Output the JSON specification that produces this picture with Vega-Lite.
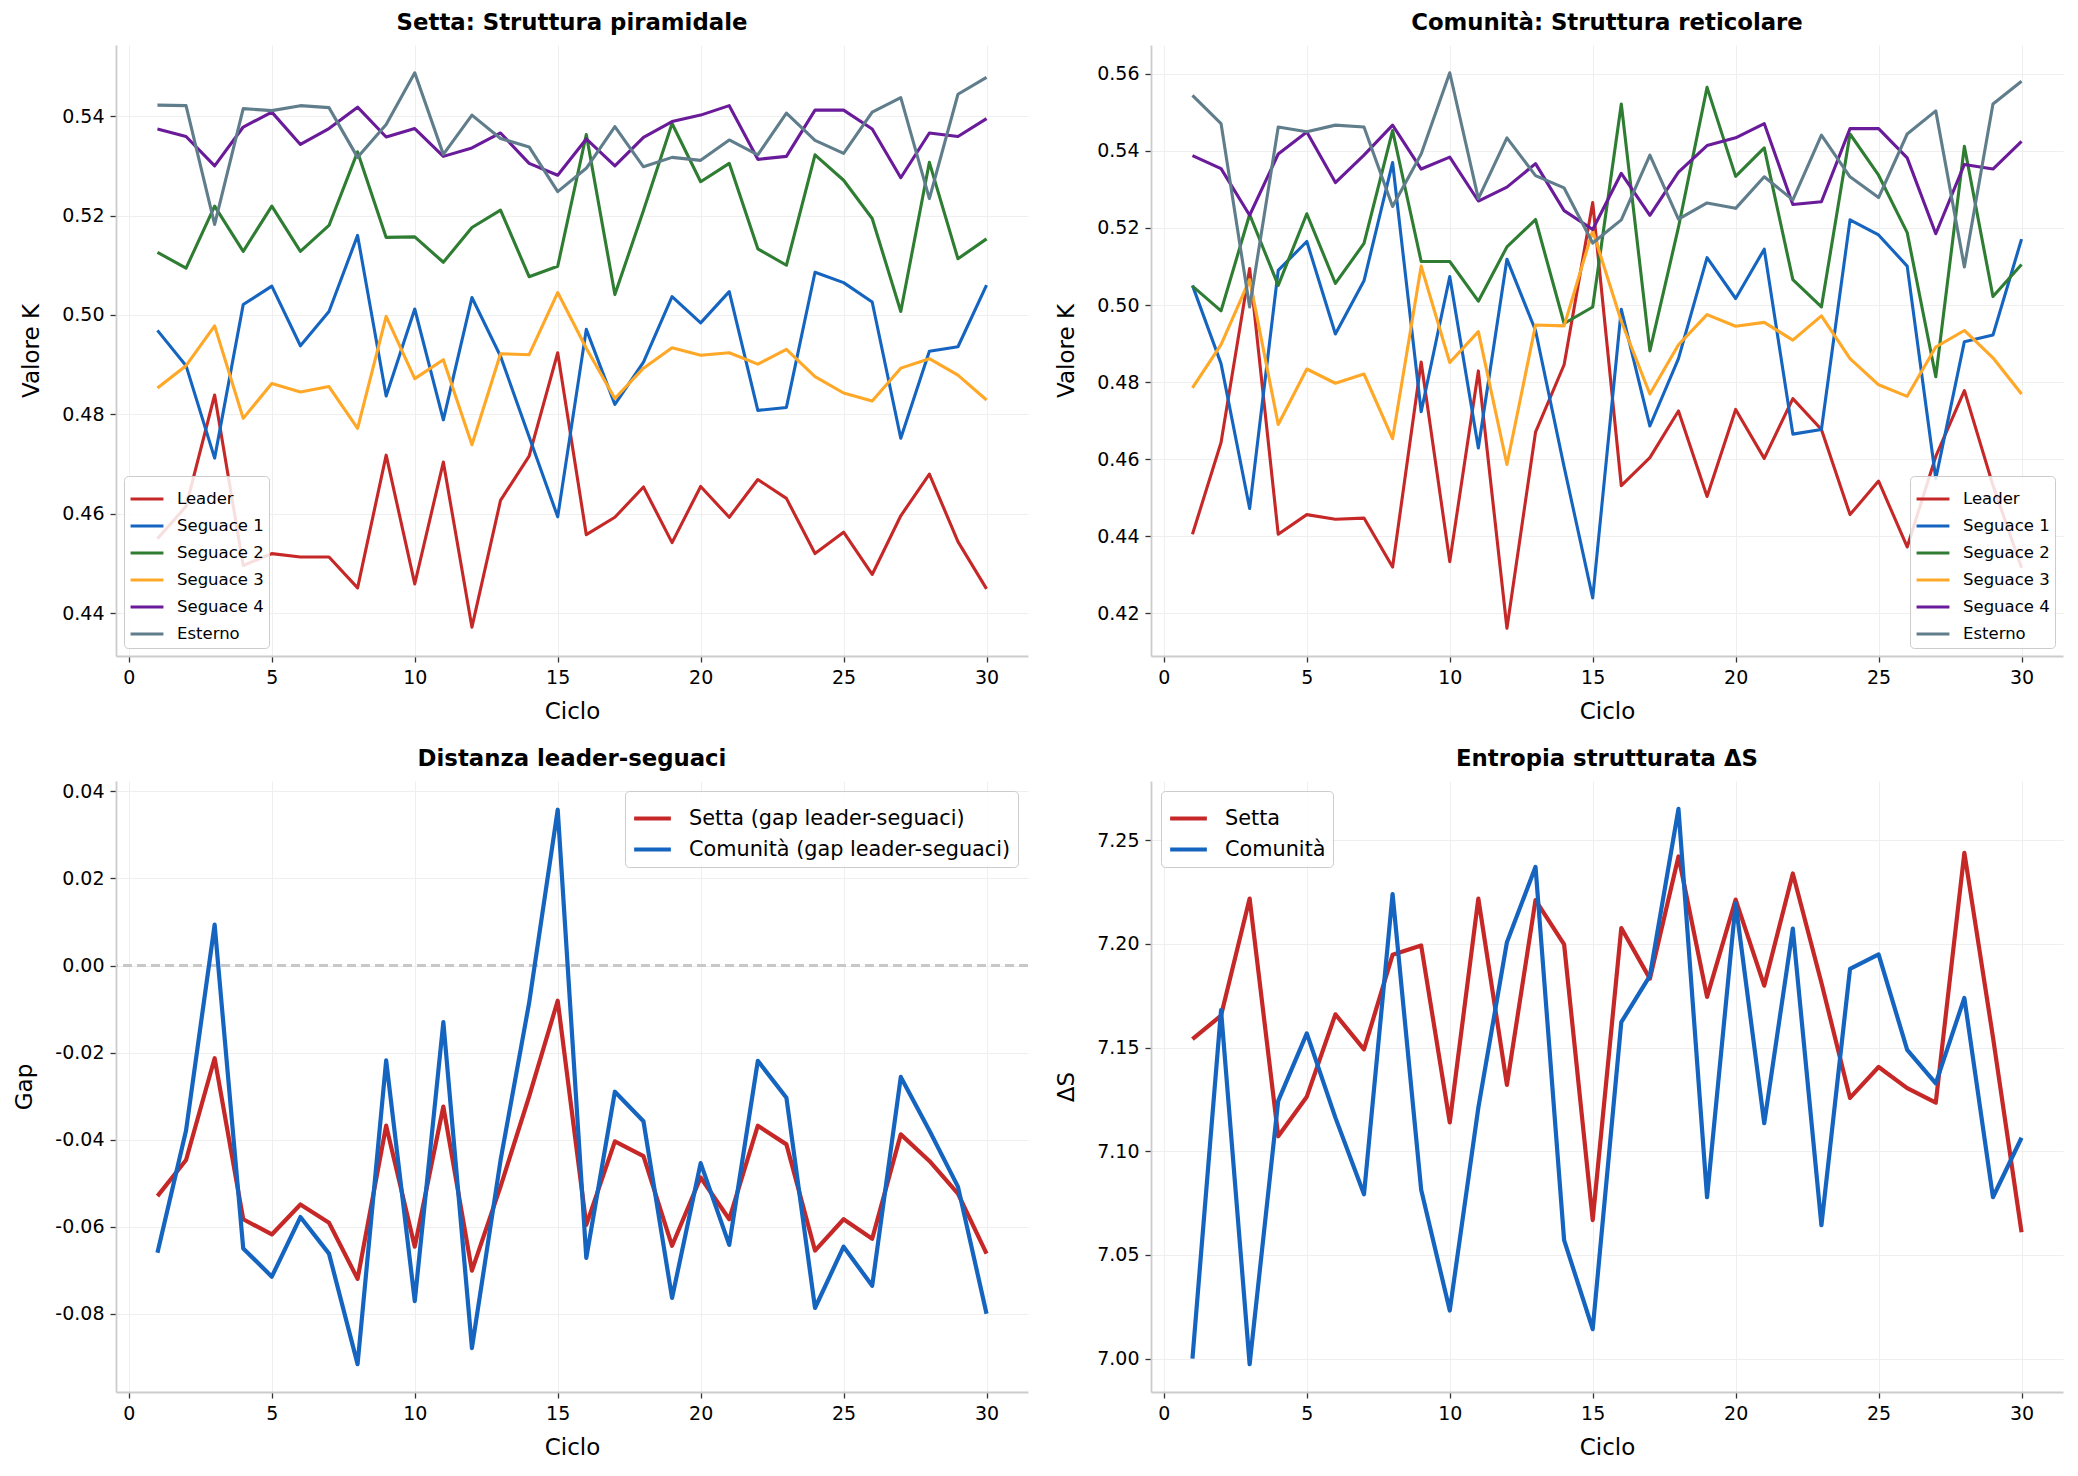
{
  "$schema": "https://vega.github.io/schema/vega-lite/v6.json",
  "background": "white",
  "padding": {"left": 13, "top": 12, "right": 4, "bottom": 6},
  "config": {
    "font": "DejaVu Sans",
    "view": {"stroke": null},
    "title": {"font": "DejaVu Sans", "fontSize": 22.8, "fontWeight": "bold", "color": "#000000", "offset": 10, "anchor": "middle"},
    "axis": {
      "domainColor": "#cccccc", "domainWidth": 1.8,
      "tickColor": "#333333", "tickSize": 6, "tickWidth": 1.3,
      "labelFont": "DejaVu Sans", "labelFontSize": 19, "labelColor": "#000000", "labelPadding": 6,
      "titleFont": "DejaVu Sans", "titleFontSize": 23, "titleFontWeight": "normal", "titleColor": "#000000", "titlePadding": 13,
      "grid": true, "gridColor": "#efefef", "gridWidth": 1
    },
    "axisY": {"titlePadding": 18},
    "legend": {
      "fillColor": "rgba(255,255,255,0.85)", "strokeColor": "#cccccc", "cornerRadius": 4,
      "symbolType": "stroke", "labelFont": "DejaVu Sans", "labelColor": "#000000"
    }
  },
  "datasets": {
    "setta": [
      {"ciclo": 1, "Leader": 0.4550, "Seguace 1": 0.4969, "Seguace 2": 0.5126, "Seguace 3": 0.4853, "Seguace 4": 0.5374, "Esterno": 0.5422},
      {"ciclo": 2, "Leader": 0.4615, "Seguace 1": 0.4898, "Seguace 2": 0.5094, "Seguace 3": 0.4898, "Seguace 4": 0.5359, "Esterno": 0.5421},
      {"ciclo": 3, "Leader": 0.4839, "Seguace 1": 0.4712, "Seguace 2": 0.5219, "Seguace 3": 0.4978, "Seguace 4": 0.5300, "Esterno": 0.5182},
      {"ciclo": 4, "Leader": 0.4496, "Seguace 1": 0.5021, "Seguace 2": 0.5128, "Seguace 3": 0.4792, "Seguace 4": 0.5378, "Esterno": 0.5415},
      {"ciclo": 5, "Leader": 0.4520, "Seguace 1": 0.5058, "Seguace 2": 0.5219, "Seguace 3": 0.4862, "Seguace 4": 0.5408, "Esterno": 0.5411},
      {"ciclo": 6, "Leader": 0.4513, "Seguace 1": 0.4938, "Seguace 2": 0.5128, "Seguace 3": 0.4845, "Seguace 4": 0.5343, "Esterno": 0.5421},
      {"ciclo": 7, "Leader": 0.4513, "Seguace 1": 0.5007, "Seguace 2": 0.5180, "Seguace 3": 0.4856, "Seguace 4": 0.5375, "Esterno": 0.5417},
      {"ciclo": 8, "Leader": 0.4451, "Seguace 1": 0.5160, "Seguace 2": 0.5328, "Seguace 3": 0.4772, "Seguace 4": 0.5418, "Esterno": 0.5317},
      {"ciclo": 9, "Leader": 0.4718, "Seguace 1": 0.4837, "Seguace 2": 0.5156, "Seguace 3": 0.4997, "Seguace 4": 0.5358, "Esterno": 0.5383},
      {"ciclo": 10, "Leader": 0.4459, "Seguace 1": 0.5012, "Seguace 2": 0.5157, "Seguace 3": 0.4872, "Seguace 4": 0.5375, "Esterno": 0.5487},
      {"ciclo": 11, "Leader": 0.4704, "Seguace 1": 0.4789, "Seguace 2": 0.5106, "Seguace 3": 0.4910, "Seguace 4": 0.5319, "Esterno": 0.5323},
      {"ciclo": 12, "Leader": 0.4372, "Seguace 1": 0.5035, "Seguace 2": 0.5176, "Seguace 3": 0.4739, "Seguace 4": 0.5336, "Esterno": 0.5402},
      {"ciclo": 13, "Leader": 0.4627, "Seguace 1": 0.4917, "Seguace 2": 0.5211, "Seguace 3": 0.4922, "Seguace 4": 0.5366, "Esterno": 0.5355},
      {"ciclo": 14, "Leader": 0.4716, "Seguace 1": 0.4755, "Seguace 2": 0.5077, "Seguace 3": 0.4920, "Seguace 4": 0.5305, "Esterno": 0.5338},
      {"ciclo": 15, "Leader": 0.4924, "Seguace 1": 0.4594, "Seguace 2": 0.5098, "Seguace 3": 0.5045, "Seguace 4": 0.5281, "Esterno": 0.5248},
      {"ciclo": 16, "Leader": 0.4558, "Seguace 1": 0.4971, "Seguace 2": 0.5363, "Seguace 3": 0.4933, "Seguace 4": 0.5354, "Esterno": 0.5295},
      {"ciclo": 17, "Leader": 0.4593, "Seguace 1": 0.4820, "Seguace 2": 0.5041, "Seguace 3": 0.4832, "Seguace 4": 0.5300, "Esterno": 0.5379},
      {"ciclo": 18, "Leader": 0.4654, "Seguace 1": 0.4905, "Seguace 2": 0.5210, "Seguace 3": 0.4893, "Seguace 4": 0.5357, "Esterno": 0.5298},
      {"ciclo": 19, "Leader": 0.4542, "Seguace 1": 0.5037, "Seguace 2": 0.5385, "Seguace 3": 0.4934, "Seguace 4": 0.5389, "Esterno": 0.5317},
      {"ciclo": 20, "Leader": 0.4655, "Seguace 1": 0.4984, "Seguace 2": 0.5268, "Seguace 3": 0.4919, "Seguace 4": 0.5402, "Esterno": 0.5311},
      {"ciclo": 21, "Leader": 0.4593, "Seguace 1": 0.5047, "Seguace 2": 0.5305, "Seguace 3": 0.4924, "Seguace 4": 0.5421, "Esterno": 0.5352},
      {"ciclo": 22, "Leader": 0.4669, "Seguace 1": 0.4808, "Seguace 2": 0.5133, "Seguace 3": 0.4901, "Seguace 4": 0.5313, "Esterno": 0.5322},
      {"ciclo": 23, "Leader": 0.4631, "Seguace 1": 0.4814, "Seguace 2": 0.5100, "Seguace 3": 0.4931, "Seguace 4": 0.5319, "Esterno": 0.5406},
      {"ciclo": 24, "Leader": 0.4520, "Seguace 1": 0.5086, "Seguace 2": 0.5322, "Seguace 3": 0.4876, "Seguace 4": 0.5412, "Esterno": 0.5351},
      {"ciclo": 25, "Leader": 0.4563, "Seguace 1": 0.5065, "Seguace 2": 0.5271, "Seguace 3": 0.4843, "Seguace 4": 0.5412, "Esterno": 0.5325},
      {"ciclo": 26, "Leader": 0.4478, "Seguace 1": 0.5026, "Seguace 2": 0.5194, "Seguace 3": 0.4827, "Seguace 4": 0.5374, "Esterno": 0.5408},
      {"ciclo": 27, "Leader": 0.4596, "Seguace 1": 0.4752, "Seguace 2": 0.5007, "Seguace 3": 0.4893, "Seguace 4": 0.5276, "Esterno": 0.5437},
      {"ciclo": 28, "Leader": 0.4680, "Seguace 1": 0.4927, "Seguace 2": 0.5307, "Seguace 3": 0.4912, "Seguace 4": 0.5366, "Esterno": 0.5234},
      {"ciclo": 29, "Leader": 0.4544, "Seguace 1": 0.4936, "Seguace 2": 0.5113, "Seguace 3": 0.4879, "Seguace 4": 0.5359, "Esterno": 0.5444},
      {"ciclo": 30, "Leader": 0.4449, "Seguace 1": 0.5060, "Seguace 2": 0.5153, "Seguace 3": 0.4829, "Seguace 4": 0.5395, "Esterno": 0.5478}
    ],
    "comunita": [
      {"ciclo": 1, "Leader": 0.4405, "Seguace 1": 0.5051, "Seguace 2": 0.5049, "Seguace 3": 0.4785, "Seguace 4": 0.5388, "Esterno": 0.5544},
      {"ciclo": 2, "Leader": 0.4643, "Seguace 1": 0.4848, "Seguace 2": 0.4985, "Seguace 3": 0.4897, "Seguace 4": 0.5354, "Esterno": 0.5471},
      {"ciclo": 3, "Leader": 0.5095, "Seguace 1": 0.4472, "Seguace 2": 0.5235, "Seguace 3": 0.5066, "Seguace 4": 0.5233, "Esterno": 0.4995},
      {"ciclo": 4, "Leader": 0.4405, "Seguace 1": 0.5090, "Seguace 2": 0.5051, "Seguace 3": 0.4690, "Seguace 4": 0.5392, "Esterno": 0.5462},
      {"ciclo": 5, "Leader": 0.4456, "Seguace 1": 0.5165, "Seguace 2": 0.5237, "Seguace 3": 0.4834, "Seguace 4": 0.5449, "Esterno": 0.5450},
      {"ciclo": 6, "Leader": 0.4444, "Seguace 1": 0.4925, "Seguace 2": 0.5056, "Seguace 3": 0.4797, "Seguace 4": 0.5318, "Esterno": 0.5467},
      {"ciclo": 7, "Leader": 0.4447, "Seguace 1": 0.5063, "Seguace 2": 0.5160, "Seguace 3": 0.4821, "Seguace 4": 0.5389, "Esterno": 0.5462},
      {"ciclo": 8, "Leader": 0.4320, "Seguace 1": 0.5370, "Seguace 2": 0.5453, "Seguace 3": 0.4653, "Seguace 4": 0.5467, "Esterno": 0.5256},
      {"ciclo": 9, "Leader": 0.4852, "Seguace 1": 0.4723, "Seguace 2": 0.5113, "Seguace 3": 0.5101, "Seguace 4": 0.5353, "Esterno": 0.5392},
      {"ciclo": 10, "Leader": 0.4334, "Seguace 1": 0.5074, "Seguace 2": 0.5113, "Seguace 3": 0.4851, "Seguace 4": 0.5384, "Esterno": 0.5603},
      {"ciclo": 11, "Leader": 0.4829, "Seguace 1": 0.4629, "Seguace 2": 0.5010, "Seguace 3": 0.4931, "Seguace 4": 0.5270, "Esterno": 0.5276},
      {"ciclo": 12, "Leader": 0.4161, "Seguace 1": 0.5119, "Seguace 2": 0.5151, "Seguace 3": 0.4586, "Seguace 4": 0.5306, "Esterno": 0.5434},
      {"ciclo": 13, "Leader": 0.4670, "Seguace 1": 0.4934, "Seguace 2": 0.5222, "Seguace 3": 0.4948, "Seguace 4": 0.5367, "Esterno": 0.5336},
      {"ciclo": 14, "Leader": 0.4845, "Seguace 1": 0.4580, "Seguace 2": 0.4952, "Seguace 3": 0.4946, "Seguace 4": 0.5245, "Esterno": 0.5304},
      {"ciclo": 15, "Leader": 0.5266, "Seguace 1": 0.4240, "Seguace 2": 0.4995, "Seguace 3": 0.5193, "Seguace 4": 0.5196, "Esterno": 0.5161},
      {"ciclo": 16, "Leader": 0.4531, "Seguace 1": 0.4989, "Seguace 2": 0.5522, "Seguace 3": 0.4958, "Seguace 4": 0.5342, "Esterno": 0.5221},
      {"ciclo": 17, "Leader": 0.4604, "Seguace 1": 0.4686, "Seguace 2": 0.4881, "Seguace 3": 0.4769, "Seguace 4": 0.5233, "Esterno": 0.5389},
      {"ciclo": 18, "Leader": 0.4725, "Seguace 1": 0.4861, "Seguace 2": 0.5202, "Seguace 3": 0.4897, "Seguace 4": 0.5345, "Esterno": 0.5223},
      {"ciclo": 19, "Leader": 0.4503, "Seguace 1": 0.5123, "Seguace 2": 0.5565, "Seguace 3": 0.4975, "Seguace 4": 0.5414, "Esterno": 0.5265},
      {"ciclo": 20, "Leader": 0.4729, "Seguace 1": 0.5017, "Seguace 2": 0.5334, "Seguace 3": 0.4945, "Seguace 4": 0.5434, "Esterno": 0.5251},
      {"ciclo": 21, "Leader": 0.4602, "Seguace 1": 0.5145, "Seguace 2": 0.5408, "Seguace 3": 0.4955, "Seguace 4": 0.5471, "Esterno": 0.5333},
      {"ciclo": 22, "Leader": 0.4757, "Seguace 1": 0.4665, "Seguace 2": 0.5066, "Seguace 3": 0.4909, "Seguace 4": 0.5261, "Esterno": 0.5273},
      {"ciclo": 23, "Leader": 0.4677, "Seguace 1": 0.4677, "Seguace 2": 0.4995, "Seguace 3": 0.4972, "Seguace 4": 0.5268, "Esterno": 0.5441},
      {"ciclo": 24, "Leader": 0.4456, "Seguace 1": 0.5221, "Seguace 2": 0.5444, "Seguace 3": 0.4861, "Seguace 4": 0.5458, "Esterno": 0.5333},
      {"ciclo": 25, "Leader": 0.4543, "Seguace 1": 0.5182, "Seguace 2": 0.5337, "Seguace 3": 0.4793, "Seguace 4": 0.5458, "Esterno": 0.5279},
      {"ciclo": 26, "Leader": 0.4372, "Seguace 1": 0.5101, "Seguace 2": 0.5188, "Seguace 3": 0.4763, "Seguace 4": 0.5382, "Esterno": 0.5444},
      {"ciclo": 27, "Leader": 0.4607, "Seguace 1": 0.4549, "Seguace 2": 0.4814, "Seguace 3": 0.4891, "Seguace 4": 0.5185, "Esterno": 0.5504},
      {"ciclo": 28, "Leader": 0.4778, "Seguace 1": 0.4905, "Seguace 2": 0.5412, "Seguace 3": 0.4934, "Seguace 4": 0.5365, "Esterno": 0.5099},
      {"ciclo": 29, "Leader": 0.4532, "Seguace 1": 0.4922, "Seguace 2": 0.5022, "Seguace 3": 0.4863, "Seguace 4": 0.5353, "Esterno": 0.5522},
      {"ciclo": 30, "Leader": 0.4318, "Seguace 1": 0.5171, "Seguace 2": 0.5105, "Seguace 3": 0.4769, "Seguace 4": 0.5425, "Esterno": 0.5581}
    ],
    "gap": [
      {"ciclo": 1, "Setta": -0.0530, "Comunità": -0.0660},
      {"ciclo": 2, "Setta": -0.0447, "Comunità": -0.0379},
      {"ciclo": 3, "Setta": -0.0213, "Comunità": 0.0094},
      {"ciclo": 4, "Setta": -0.0583, "Comunità": -0.0650},
      {"ciclo": 5, "Setta": -0.0618, "Comunità": -0.0715},
      {"ciclo": 6, "Setta": -0.0549, "Comunità": -0.0578},
      {"ciclo": 7, "Setta": -0.0591, "Comunità": -0.0662},
      {"ciclo": 8, "Setta": -0.0720, "Comunità": -0.0916},
      {"ciclo": 9, "Setta": -0.0368, "Comunità": -0.0218},
      {"ciclo": 10, "Setta": -0.0646, "Comunità": -0.0771},
      {"ciclo": 11, "Setta": -0.0324, "Comunità": -0.0130},
      {"ciclo": 12, "Setta": -0.0701, "Comunità": -0.0879},
      {"ciclo": 13, "Setta": -0.0508, "Comunità": -0.0448},
      {"ciclo": 14, "Setta": -0.0301, "Comunità": -0.0086},
      {"ciclo": 15, "Setta": -0.0081, "Comunità": 0.0358},
      {"ciclo": 16, "Setta": -0.0596, "Comunità": -0.0672},
      {"ciclo": 17, "Setta": -0.0404, "Comunità": -0.0290},
      {"ciclo": 18, "Setta": -0.0438, "Comunità": -0.0358},
      {"ciclo": 19, "Setta": -0.0644, "Comunità": -0.0764},
      {"ciclo": 20, "Setta": -0.0487, "Comunità": -0.0454},
      {"ciclo": 21, "Setta": -0.0583, "Comunità": -0.0642},
      {"ciclo": 22, "Setta": -0.0368, "Comunità": -0.0219},
      {"ciclo": 23, "Setta": -0.0411, "Comunità": -0.0304},
      {"ciclo": 24, "Setta": -0.0655, "Comunità": -0.0787},
      {"ciclo": 25, "Setta": -0.0583, "Comunità": -0.0646},
      {"ciclo": 26, "Setta": -0.0628, "Comunità": -0.0736},
      {"ciclo": 27, "Setta": -0.0388, "Comunità": -0.0256},
      {"ciclo": 28, "Setta": -0.0449, "Comunità": -0.0379},
      {"ciclo": 29, "Setta": -0.0524, "Comunità": -0.0508},
      {"ciclo": 30, "Setta": -0.0662, "Comunità": -0.0800}
    ],
    "entropia": [
      {"ciclo": 1, "Setta": 7.1541, "Comunità": 7.0000},
      {"ciclo": 2, "Setta": 7.1654, "Comunità": 7.1680},
      {"ciclo": 3, "Setta": 7.2218, "Comunità": 6.9973},
      {"ciclo": 4, "Setta": 7.1072, "Comunità": 7.1243},
      {"ciclo": 5, "Setta": 7.1263, "Comunità": 7.1568},
      {"ciclo": 6, "Setta": 7.1660, "Comunità": 7.1162},
      {"ciclo": 7, "Setta": 7.1491, "Comunità": 7.0792},
      {"ciclo": 8, "Setta": 7.1947, "Comunità": 7.2240},
      {"ciclo": 9, "Setta": 7.1992, "Comunità": 7.0814},
      {"ciclo": 10, "Setta": 7.1139, "Comunità": 7.0232},
      {"ciclo": 11, "Setta": 7.2218, "Comunità": 7.1210},
      {"ciclo": 12, "Setta": 7.1320, "Comunità": 7.2008},
      {"ciclo": 13, "Setta": 7.2211, "Comunità": 7.2371},
      {"ciclo": 14, "Setta": 7.1997, "Comunità": 7.0571},
      {"ciclo": 15, "Setta": 7.0668, "Comunità": 7.0142},
      {"ciclo": 16, "Setta": 7.2076, "Comunità": 7.1622},
      {"ciclo": 17, "Setta": 7.1832, "Comunità": 7.1845},
      {"ciclo": 18, "Setta": 7.2421, "Comunità": 7.2651},
      {"ciclo": 19, "Setta": 7.1744, "Comunità": 7.0778},
      {"ciclo": 20, "Setta": 7.2213, "Comunità": 7.2195},
      {"ciclo": 21, "Setta": 7.1798, "Comunità": 7.1135},
      {"ciclo": 22, "Setta": 7.2339, "Comunità": 7.2073},
      {"ciclo": 23, "Setta": 7.1812, "Comunità": 7.0643},
      {"ciclo": 24, "Setta": 7.1257, "Comunità": 7.1879},
      {"ciclo": 25, "Setta": 7.1406, "Comunità": 7.1949},
      {"ciclo": 26, "Setta": 7.1304, "Comunità": 7.1489},
      {"ciclo": 27, "Setta": 7.1234, "Comunità": 7.1327},
      {"ciclo": 28, "Setta": 7.2439, "Comunità": 7.1739},
      {"ciclo": 29, "Setta": 7.1550, "Comunità": 7.0778},
      {"ciclo": 30, "Setta": 7.0609, "Comunità": 7.1065}
    ]
  },
  "columns": 2,
  "spacing": {"row": 25, "column": 25},
  "resolve": {
    "scale": {"x": "independent", "y": "independent", "color": "independent"},
    "legend": {"color": "independent"},
    "axis": {"x": "independent", "y": "independent"}
  },
  "concat": [
    {
      "width": 912, "height": 611,
      "title": "Setta: Struttura piramidale",
      "data": {"name": "setta"},
      "transform": [{"fold": ["Leader", "Seguace 1", "Seguace 2", "Seguace 3", "Seguace 4", "Esterno"], "as": ["ruolo", "k"]}],
      "mark": {"type": "line", "strokeWidth": 3.1, "strokeJoin": "round"},
      "encoding": {
        "x": {"field": "ciclo", "type": "quantitative", "title": "Ciclo", "scale": {"domain": [-0.45, 31.45], "nice": false, "zero": false}, "axis": {"values": [0, 5, 10, 15, 20, 25, 30]}},
        "y": {"field": "k", "type": "quantitative", "title": "Valore K", "scale": {"domain": [0.4314, 0.5543], "nice": false, "zero": false}, "axis": {"values": [0.44, 0.46, 0.48, 0.5, 0.52, 0.54], "format": ".2f"}},
        "color": {
          "field": "ruolo", "type": "nominal",
          "scale": {"domain": ["Leader", "Seguace 1", "Seguace 2", "Seguace 3", "Seguace 4", "Esterno"], "range": ["#c62828", "#1565c0", "#2e7d32", "#ffa726", "#6a1b9a", "#607d8b"]},
          "legend": {"title": null, "orient": "bottom-left", "offset": 8, "padding": 5, "labelFontSize": 16.5, "symbolSize": 1080, "symbolStrokeWidth": 3.1, "rowPadding": 0, "labelOffset": 12}
        }
      }
    },
    {
      "width": 912, "height": 611,
      "title": "Comunità: Struttura reticolare",
      "data": {"name": "comunita"},
      "transform": [{"fold": ["Leader", "Seguace 1", "Seguace 2", "Seguace 3", "Seguace 4", "Esterno"], "as": ["ruolo", "k"]}],
      "mark": {"type": "line", "strokeWidth": 3.1, "strokeJoin": "round"},
      "encoding": {
        "x": {"field": "ciclo", "type": "quantitative", "title": "Ciclo", "scale": {"domain": [-0.45, 31.45], "nice": false, "zero": false}, "axis": {"values": [0, 5, 10, 15, 20, 25, 30]}},
        "y": {"field": "k", "type": "quantitative", "title": "Valore K", "scale": {"domain": [0.4089, 0.5675], "nice": false, "zero": false}, "axis": {"values": [0.42, 0.44, 0.46, 0.48, 0.5, 0.52, 0.54, 0.56], "format": ".2f"}},
        "color": {
          "field": "ruolo", "type": "nominal",
          "scale": {"domain": ["Leader", "Seguace 1", "Seguace 2", "Seguace 3", "Seguace 4", "Esterno"], "range": ["#c62828", "#1565c0", "#2e7d32", "#ffa726", "#6a1b9a", "#607d8b"]},
          "legend": {"title": null, "orient": "bottom-right", "offset": 8, "padding": 5, "labelFontSize": 16.5, "symbolSize": 1080, "symbolStrokeWidth": 3.1, "rowPadding": 0, "labelOffset": 12}
        }
      }
    },
    {
      "width": 912, "height": 611,
      "title": "Distanza leader-seguaci",
      "data": {"name": "gap"},
      "transform": [{"fold": ["Setta", "Comunità"], "as": ["serie", "gap"]}],
      "layer": [
        {
          "mark": {"type": "rule", "strokeDash": [9, 5], "color": "#c8c8c8", "strokeWidth": 2.2},
          "encoding": {"y": {"datum": 0}}
        },
        {
          "mark": {"type": "line", "strokeWidth": 4.2, "strokeJoin": "round"},
          "encoding": {
            "x": {"field": "ciclo", "type": "quantitative", "title": "Ciclo", "scale": {"domain": [-0.45, 31.45], "nice": false, "zero": false}, "axis": {"values": [0, 5, 10, 15, 20, 25, 30]}},
            "y": {"field": "gap", "type": "quantitative", "title": "Gap", "scale": {"domain": [-0.098, 0.0424], "nice": false, "zero": false}, "axis": {"values": [-0.08, -0.06, -0.04, -0.02, 0, 0.02, 0.04], "format": ".2f", "labelExpr": "replace(datum.label, '−', '-')"}},
            "color": {
              "field": "serie", "type": "nominal",
              "scale": {"domain": ["Setta", "Comunità"], "range": ["#c62828", "#1565c0"]},
              "legend": {"title": null, "orient": "top-right", "offset": 10, "padding": 7, "labelFontSize": 20.8, "symbolSize": 1350, "symbolStrokeWidth": 4.2, "rowPadding": 0, "labelOffset": 16, "labelExpr": "datum.label + ' (gap leader-seguaci)'", "labelLimit": 500}
            }
          }
        }
      ]
    },
    {
      "width": 912, "height": 611,
      "title": "Entropia strutturata ΔS",
      "data": {"name": "entropia"},
      "transform": [{"fold": ["Setta", "Comunità"], "as": ["serie", "ds"]}],
      "mark": {"type": "line", "strokeWidth": 4.2, "strokeJoin": "round"},
      "encoding": {
        "x": {"field": "ciclo", "type": "quantitative", "title": "Ciclo", "scale": {"domain": [-0.45, 31.45], "nice": false, "zero": false}, "axis": {"values": [0, 5, 10, 15, 20, 25, 30]}},
        "y": {"field": "ds", "type": "quantitative", "title": "ΔS", "scale": {"domain": [6.9839, 7.2785], "nice": false, "zero": false}, "axis": {"values": [7.0, 7.05, 7.1, 7.15, 7.2, 7.25], "format": ".2f"}},
        "color": {
          "field": "serie", "type": "nominal",
          "scale": {"domain": ["Setta", "Comunità"], "range": ["#c62828", "#1565c0"]},
          "legend": {"title": null, "orient": "top-left", "offset": 10, "padding": 7, "labelFontSize": 20.8, "symbolSize": 1350, "symbolStrokeWidth": 4.2, "rowPadding": 0, "labelOffset": 16}
        }
      }
    }
  ]
}
